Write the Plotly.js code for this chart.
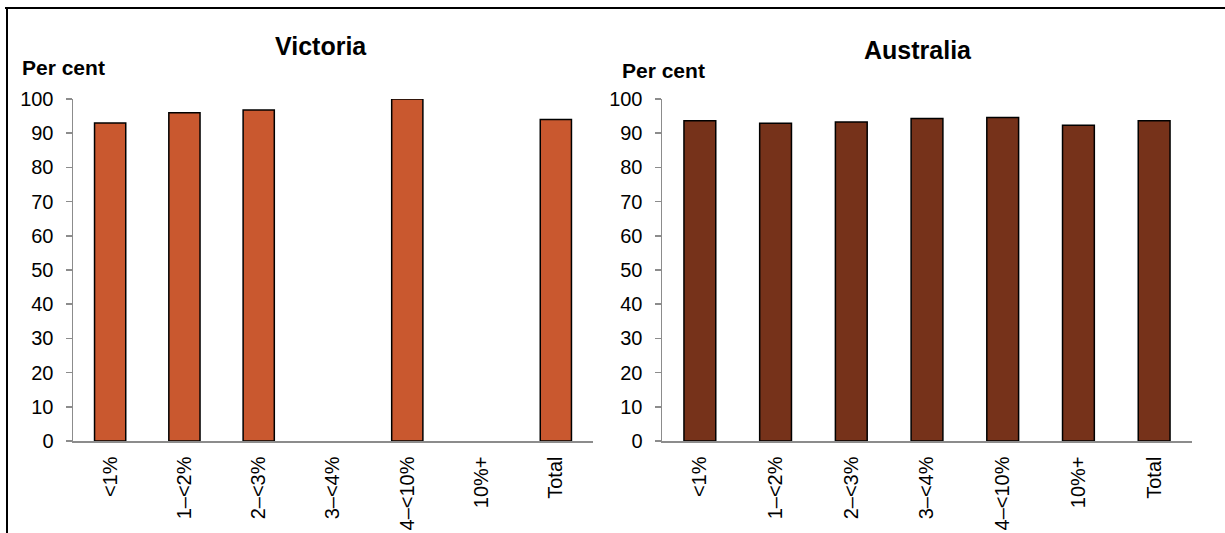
<!DOCTYPE html>
<html>
<head>
<meta charset="utf-8">
<script src="https://cdn.plot.ly/plotly-3.0.1.min.js"></script>
<style>html,body{margin:0;padding:0;background:#fff}#chart{width:1225px;height:533px}</style>
</head>
<body>
<div id="chart"></div>
<script>
const categories = ["<1%", "1–<2%", "2–<3%", "3–<4%", "4–<10%", "10%+", "Total"];
const victoriaValues = [93.0, 96.0, 96.8, null, 100.0, null, 94.0];
const australiaValues = [93.6, 92.9, 93.3, 94.3, 94.6, 92.3, 93.6];
const yTicks = [0, 10, 20, 30, 40, 50, 60, 70, 80, 90, 100];
const panelTitles = ["Victoria", "Australia"];
const yAxisLabel = "Per cent";

const FONT = "Liberation Sans, Arial, sans-serif";

const traces = [
  {
    type: "bar", x: categories, y: victoriaValues, xaxis: "x", yaxis: "y",
    width: 0.42,
    marker: {color: "#C9582F", line: {color: "#000000", width: 1.5}},
    hoverinfo: "x+y", showlegend: false
  },
  {
    type: "bar", x: categories, y: australiaValues, xaxis: "x2", yaxis: "y2",
    width: 0.42,
    marker: {color: "#76321A", line: {color: "#000000", width: 1.5}},
    hoverinfo: "x+y", showlegend: false
  }
];

const yDomain = [0.1726, 0.8143];
function xAxis(domain, anchor) {
  return {
    domain: domain, anchor: anchor, type: "category",
    showgrid: false, zeroline: false,
    showline: true, linecolor: "#8C8C8C", linewidth: 1.5,
    ticks: "", tickangle: -90, ticklabelstandoff: 6,
    tickfont: {family: FONT, size: 20, color: "#000"},
    fixedrange: true
  };
}
function yAxis(anchor) {
  return {
    domain: yDomain, anchor: anchor, range: [0, 100],
    tickvals: yTicks, ticktext: yTicks.map(String),
    showgrid: false, zeroline: false,
    showline: true, linecolor: "#8C8C8C", linewidth: 1.5,
    ticks: "outside", ticklen: 6, tickcolor: "#8C8C8C", tickwidth: 1.5,
    ticklabelstandoff: 8,
    tickfont: {family: FONT, size: 20, color: "#000"},
    fixedrange: true
  };
}

const layout = {
  width: 1225, height: 533,
  margin: {l: 0, r: 0, t: 0, b: 0},
  paper_bgcolor: "#ffffff", plot_bgcolor: "rgba(0,0,0,0)",
  bargap: 0.58,
  xaxis: xAxis([73/1225, 593/1225], "y"),
  yaxis: yAxis("x"),
  xaxis2: xAxis([662/1225, 1192/1225], "y2"),
  yaxis2: yAxis("x2"),
  annotations: [
    {text: "<b>" + panelTitles[0] + "</b>", xref: "paper", yref: "paper", x: 321/1225, y: 1 - 46/533,
     xanchor: "center", yanchor: "middle", showarrow: false, font: {family: FONT, size: 25, color: "#000"}},
    {text: "<b>" + panelTitles[1] + "</b>", xref: "paper", yref: "paper", x: 918/1225, y: 1 - 50/533,
     xanchor: "center", yanchor: "middle", showarrow: false, font: {family: FONT, size: 25, color: "#000"}},
    {text: "<b>" + yAxisLabel + "</b>", xref: "paper", yref: "paper", x: 20/1225, y: 1 - 67/533,
     xanchor: "left", yanchor: "middle", showarrow: false, font: {family: FONT, size: 21, color: "#000"}},
    {text: "<b>" + yAxisLabel + "</b>", xref: "paper", yref: "paper", x: 620/1225, y: 1 - 71/533,
     xanchor: "left", yanchor: "middle", showarrow: false, font: {family: FONT, size: 21, color: "#000"}}
  ],
  shapes: [
    {type: "line", xref: "paper", yref: "paper", x0: 5/1225, x1: 1, y0: 1 - 8/533, y1: 1 - 8/533,
     line: {color: "#000", width: 2}},
    {type: "line", xref: "paper", yref: "paper", x0: 7/1225, x1: 7/1225, y0: 1 - 8/533, y1: 0,
     line: {color: "#000", width: 2}}
  ]
};

Plotly.newPlot("chart", traces, layout, {displayModeBar: false, staticPlot: true});
</script>
</body>
</html>
